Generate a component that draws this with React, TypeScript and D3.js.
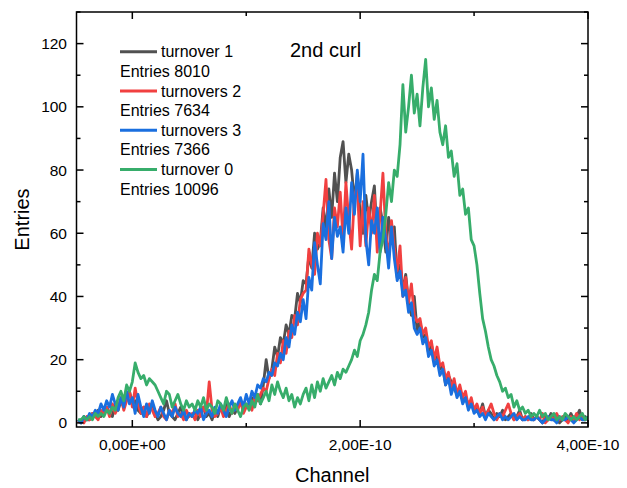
import React from "react";
import * as d3 from "d3";

// Histogram bins (Channel, seconds)
const binStart = -0.475e-10;
const binWidth = 0.025e-10;

const turnover1: number[] = [
  1,0,2,1,1,3,2,4,2,3,5,3,2,6,4,7,5,8,10,6,
  7,4,3,5,2,4,6,3,1,2,4,7,3,2,1,3,5,2,1,3,
  2,4,1,3,5,2,3,1,4,2,5,3,6,2,4,3,5,7,4,6,
  5,8,7,9,6,12,20,14,17,24,21,27,25,31,28,34,33,41,38,45,
  44,53,49,60,55,57,68,61,74,65,79,70,84,89,76,85,80,70,79,66,
  60,72,64,70,75,58,68,63,54,65,58,62,46,50,42,47,38,34,40,29,
  32,27,28,22,25,20,21,17,18,12,15,13,11,9,11,7,8,6,7,4,
  5,3,6,2,4,3,1,3,2,4,1,2,3,1,2,4,1,2,1,3,
  1,2,1,0,2,1,3,1,2,0,1,2,1,3,1,2,4,1,2,1,
];

const turnovers2: number[] = [
  0,1,0,2,1,3,2,1,4,3,5,2,6,3,5,8,4,7,10,5,
  11,6,3,5,2,6,4,2,3,5,2,1,4,3,6,2,3,1,4,2,
  3,1,4,2,5,3,13,4,2,3,5,2,4,6,3,5,4,7,3,5,
  6,4,8,7,9,11,10,14,17,15,22,19,26,22,29,27,34,31,39,41,
  42,55,50,47,60,56,66,77,58,52,68,62,73,58,76,64,55,72,75,56,
  70,56,68,60,72,54,66,79,60,52,64,55,48,56,40,46,38,44,34,32,
  33,28,30,24,26,20,24,18,19,14,16,11,14,9,12,8,10,5,8,4,
  6,3,5,2,4,6,3,1,3,2,4,6,3,1,2,3,1,2,1,2,
  1,2,1,3,0,1,2,1,3,1,2,1,0,2,1,3,1,2,1,2,
];

const turnovers3: number[] = [
  1,0,2,1,3,2,4,3,6,4,7,5,9,6,4,8,5,10,6,8,
  3,9,5,2,6,3,7,4,2,5,3,1,4,2,5,3,2,4,1,3,
  2,4,3,5,1,3,4,2,5,3,6,4,2,5,7,4,6,8,5,9,
  6,10,8,12,11,14,13,16,15,19,18,22,20,27,24,31,28,35,32,39,
  33,46,42,57,50,44,63,58,70,52,65,59,62,54,68,60,76,66,80,70,
  85,58,50,64,60,68,54,65,58,49,62,52,45,48,40,42,35,38,30,28,
  30,25,27,21,23,18,20,15,17,12,14,9,12,8,10,6,8,4,6,3,
  4,2,3,1,3,2,1,2,3,1,2,1,2,3,1,2,1,1,2,1,
  1,2,1,0,1,2,1,1,0,2,1,1,2,1,0,1,2,1,1,2,
];

const turnover0: number[] = [
  1,1,2,1,2,1,3,2,3,2,4,3,5,4,8,10,7,12,10,13,
  19,16,14,15,12,14,13,12,10,8,6,10,9,5,7,9,6,4,7,5,
  6,4,7,5,8,4,6,5,3,7,6,4,8,5,3,6,4,2,5,6,
  4,7,5,9,6,8,10,7,12,9,13,10,8,11,7,9,5,8,6,9,
  11,7,12,8,13,10,14,11,13,15,12,16,14,17,16,18,20,23,21,26,
  28,31,35,42,47,45,54,58,66,76,70,80,78,88,107,92,100,110,98,104,
  94,106,115,100,106,96,102,92,88,94,84,86,78,82,72,74,66,68,58,56,
  50,41,33,29,24,20,18,15,13,10,11,8,9,5,7,4,5,3,4,2,
  3,2,4,2,3,1,2,3,1,2,1,3,2,1,2,1,2,3,1,2,
];

const seriesNames = ["turnover 1", "turnovers 2", "turnovers 3", "turnover 0"];
const seriesEntries = ["Entries 8010", "Entries 7634", "Entries 7366", "Entries 10096"];
const seriesColors = ["#515151", "#F14040", "#1A6FDF", "#37AD6B"];
const seriesValues = [turnover1, turnovers2, turnovers3, turnover0];

const xMajorTicks = [0, 2e-10, 4e-10];
const xMajorLabels = ["0,00E+00", "2,00E-10", "4,00E-10"];
const xMinorTicks = [1e-10, 3e-10];
const yMajorTicks = [0, 20, 40, 60, 80, 100, 120];
const yMinorTicks = [10, 30, 50, 70, 90, 110, 130];

const W = 627;
const H = 488;
const L = 76.5;
const R = 588;
const T = 12;
const B = 427;
const FONT = "'Liberation Sans', Arial, Helvetica, sans-serif";

export default function App() {
  const x = d3.scaleLinear().domain([-0.49e-10, 4.0e-10]).range([L, R]);
  const y = d3.scaleLinear().domain([-1.3, 130]).range([B, T]);

  const line = d3
    .line<number>()
    .x((_, i) => x(binStart + i * binWidth))
    .y((d) => y(d));

  const majorLen = 7;
  const minorLen = 4;

  return (
    <svg
      width={W}
      height={H}
      style={{ position: "absolute", left: 0, top: 0, background: "#fff" }}
      fontFamily={FONT}
    >
      <defs>
        <clipPath id="plotClip">
          <rect x={L} y={T} width={R - L} height={B - T} />
        </clipPath>
      </defs>
      <rect x={0} y={0} width={W} height={H} fill="#fff" />

      <g clipPath="url(#plotClip)">
        {seriesValues.map((vals, k) => (
          <path
            key={k}
            d={line(vals) || ""}
            fill="none"
            stroke={seriesColors[k]}
            strokeWidth={2.8}
            strokeLinejoin="round"
          />
        ))}
      </g>

      {/* frame */}
      <rect x={L} y={T} width={R - L} height={B - T} fill="none" stroke="#000" strokeWidth={1.5} />

      {/* x ticks (bottom and top, inward) */}
      {xMajorTicks.map((t, i) => (
        <g key={"xm" + i}>
          <line x1={x(t)} x2={x(t)} y1={B} y2={B - majorLen} stroke="#000" strokeWidth={1.5} />
          <line x1={x(t)} x2={x(t)} y1={T} y2={T + majorLen} stroke="#000" strokeWidth={1.5} />
          <text x={x(t)} y={450} textAnchor="middle" fontSize={15.5} fill="#000">
            {xMajorLabels[i]}
          </text>
        </g>
      ))}
      {xMinorTicks.map((t, i) => (
        <g key={"xn" + i}>
          <line x1={x(t)} x2={x(t)} y1={B} y2={B - minorLen} stroke="#000" strokeWidth={1.5} />
          <line x1={x(t)} x2={x(t)} y1={T} y2={T + minorLen} stroke="#000" strokeWidth={1.5} />
        </g>
      ))}

      {/* y ticks (left and right, inward) */}
      {yMajorTicks.map((t, i) => (
        <g key={"ym" + i}>
          <line x1={L} x2={L + majorLen} y1={y(t)} y2={y(t)} stroke="#000" strokeWidth={1.5} />
          <line x1={R} x2={R - majorLen} y1={y(t)} y2={y(t)} stroke="#000" strokeWidth={1.5} />
          <text x={67} y={y(t)} dy="0.36em" textAnchor="end" fontSize={15.5} fill="#000">
            {t}
          </text>
        </g>
      ))}
      {yMinorTicks.map((t, i) => (
        <g key={"yn" + i}>
          <line x1={L} x2={L + minorLen} y1={y(t)} y2={y(t)} stroke="#000" strokeWidth={1.5} />
          <line x1={R} x2={R - minorLen} y1={y(t)} y2={y(t)} stroke="#000" strokeWidth={1.5} />
        </g>
      ))}

      {/* axis titles */}
      <text x={(L + R) / 2} y={482} textAnchor="middle" fontSize={20} fill="#000">
        Channel
      </text>
      <text
        transform={`translate(29, ${(T + B) / 2}) rotate(-90)`}
        textAnchor="middle"
        fontSize={20}
        fill="#000"
      >
        Entries
      </text>

      {/* annotation */}
      <text x={290} y={56.5} fontSize={20} fill="#000">
        2nd curl
      </text>

      {/* legend */}
      {seriesNames.map((name, k) => {
        const cy = 51.7 + k * 39.3;
        return (
          <g key={"lg" + k}>
            <line x1={120} x2={157} y1={cy} y2={cy} stroke={seriesColors[k]} strokeWidth={3} />
            <text x={161} y={cy} dy="0.36em" fontSize={16} fill="#000">
              {name}
            </text>
            <text x={120} y={cy + 19.4} dy="0.36em" fontSize={16} fill="#000">
              {seriesEntries[k]}
            </text>
          </g>
        );
      })}
    </svg>
  );
}
